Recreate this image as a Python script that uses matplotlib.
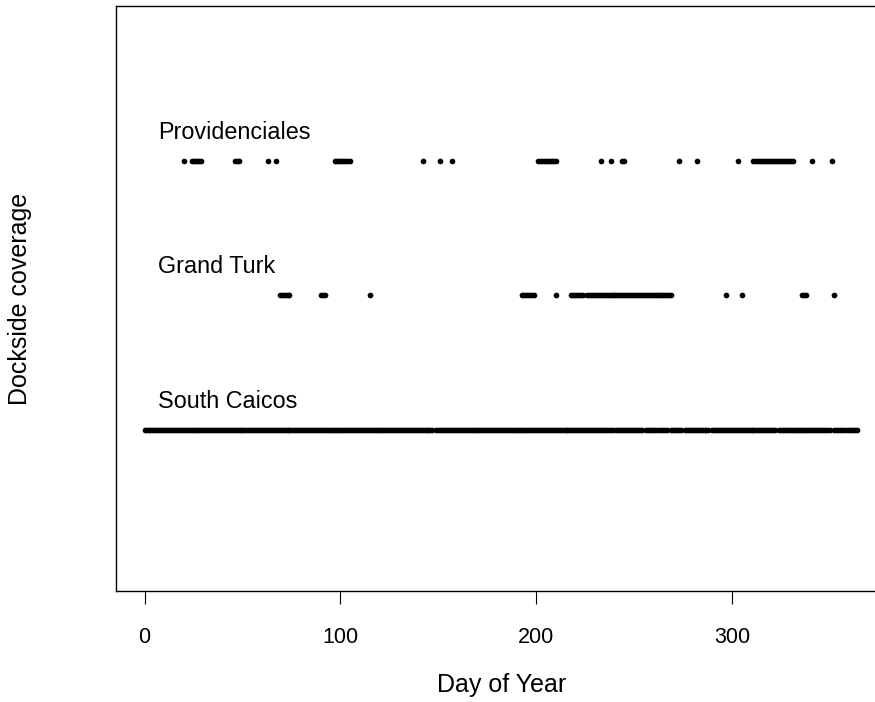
import matplotlib
matplotlib.use('Agg')
import matplotlib.pyplot as plt
import numpy as np

plt.rcParams['font.family'] = ['Liberation Sans', 'DejaVu Sans']
plt.rcParams['font.size'] = 15.5

# days with dockside coverage, stored as (first day, last day) runs
sites = ['South Caicos', 'Grand Turk', 'Providenciales']
south_caicos_runs = [(0, 147), (149, 239), (241, 254), (256, 261), (263, 267),
                     (269, 274), (276, 288), (290, 322), (324, 350), (352, 357),
                     (359, 364)]
grand_turk_runs = [(69, 74), (90, 92), (115, 115), (193, 199), (210, 210),
                   (218, 224), (226, 269), (297, 297), (305, 305), (336, 338),
                   (352, 352)]
providenciales_runs = [(20, 20), (24, 29), (46, 48), (63, 63), (67, 67),
                       (97, 105), (142, 142), (151, 151), (157, 157), (201, 210),
                       (233, 233), (238, 238), (244, 245), (273, 273), (282, 282),
                       (303, 303), (311, 331), (341, 341), (351, 351)]
site_runs = [south_caicos_runs, grand_turk_runs, providenciales_runs]
x_ticks = [0, 100, 200, 300]

fig = plt.figure(figsize=(8.75, 7.02), dpi=100)
# box runs past the right edge in the original picture
ax = fig.add_axes([0.1326, 0.158, 0.882, 0.8335])

for i, (name, runs) in enumerate(zip(sites, site_runs)):
    yy = i + 1
    days = np.concatenate([np.arange(a, b + 1) for a, b in runs])
    ax.plot(days, np.full(len(days), yy), 'o', color='black', markersize=4.1,
            markeredgewidth=0)
    ax.text(7, yy + 0.21, name, ha='left', va='center', fontsize=16.8)

ax.set_xlim(-14.6, 379.6)
ax.set_ylim(-0.2, 4.15)
ax.set_xticks(x_ticks)
ax.set_yticks([])
ax.tick_params(axis='x', direction='out', length=9.5, width=0.8, pad=16)
for s in ax.spines.values():
    s.set_linewidth(1.0)

ax.set_xlabel('Day of Year', fontsize=18)
ax.xaxis.set_label_coords(0.5, -0.161)
ax.xaxis.label.set_va('center')
ax.set_ylabel('Dockside coverage', fontsize=18)
ax.yaxis.set_label_coords(-0.124, 0.5)
ax.yaxis.label.set_va('center')

fig.savefig('out.png', dpi=100)
